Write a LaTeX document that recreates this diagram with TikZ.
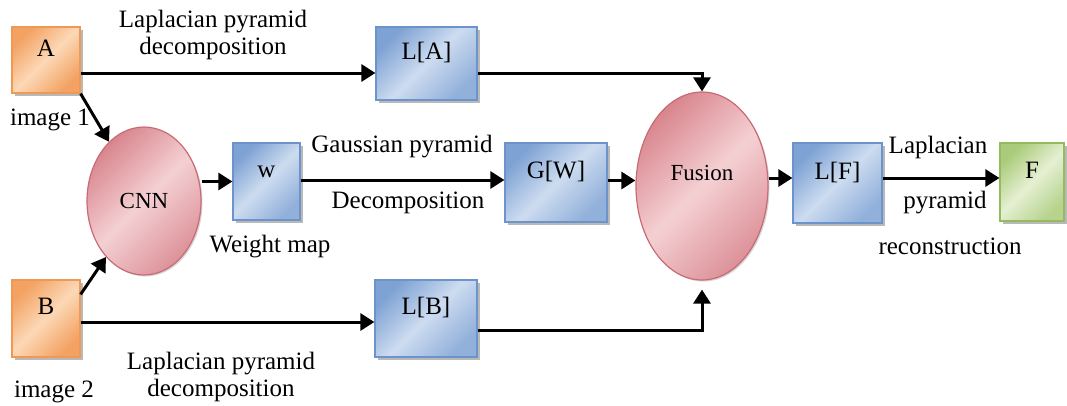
\documentclass[tikz,border=0pt]{standalone}
\usepackage{fontspec}
\setmainfont{Liberation Serif}
\usetikzlibrary{arrows.meta,shapes.geometric,shadows}
\definecolor{orD}{HTML}{F3A263}
\definecolor{orL}{HTML}{FCD8B6}
\definecolor{orB}{HTML}{EE9A55}
\definecolor{blD}{HTML}{7EA2D4}
\definecolor{blL}{HTML}{CDDCF0}
\definecolor{blB}{HTML}{6C93CA}
\definecolor{rdD}{HTML}{D9868E}
\definecolor{rdL}{HTML}{F4D0D3}
\definecolor{rdB}{HTML}{C96B75}
\definecolor{grD}{HTML}{AACB7A}
\definecolor{grL}{HTML}{E5F0D2}
\definecolor{grB}{HTML}{94BB60}
\begin{document}
\begin{tikzpicture}[x=1pt,y=-1pt,
  base/.style={draw, line width=1.2pt, inner sep=0pt,
    font=\fontsize{25}{27}\selectfont, text height=14pt, text depth=22pt,
    drop shadow={shadow xshift=3pt, shadow yshift=-3pt, fill=black!50, opacity=0.55}},
  orbox/.style={base, draw=orB, left color=orD, right color=orD, middle color=orL, shading angle=45},
  blbox/.style={base, draw=blB, left color=blD, right color=blD!85, middle color=blL, shading angle=45},
  grbox/.style={base, draw=grB, left color=grD, right color=grD!85, middle color=grL, shading angle=45},
  rdell/.style={ellipse, draw=rdB, line width=1.2pt, inner sep=0pt,
    left color=rdD, right color=rdD!90, middle color=rdL, shading angle=45,
    font=\fontsize{23}{25}\selectfont,
    drop shadow={shadow xshift=1.5pt, shadow yshift=-1.5pt, fill=black!40, opacity=0.4}},
  lbl/.style={font=\fontsize{25}{26.5}\selectfont, inner sep=0pt, align=center},
  arr/.style={line width=3pt, -{Triangle[length=14pt,width=17pt]}}
]
\useasboundingbox[fill=white] (0,0) rectangle (1067,405);

% boxes
\node[orbox, minimum width=68pt, minimum height=66pt] (A) at (46,60) {A};
\node[orbox, minimum width=68pt, minimum height=77pt] (B) at (46,318.5) {B};
\node[blbox, minimum width=101pt, minimum height=73pt] (LA) at (426.5,63.5) {L[A]};
\node[blbox, minimum width=102pt, minimum height=77pt] (LB) at (426,318.5) {L[B]};
\node[blbox, minimum width=67pt, minimum height=77pt] (w) at (266.5,181.5) {w};
\node[blbox, minimum width=102pt, minimum height=79pt] (GW) at (556,182.5) {G[W]};
\node[blbox, minimum width=89pt, minimum height=80pt] (LF) at (837.5,183) {L[F]};
\node[grbox, minimum width=64pt, minimum height=78pt] (F) at (1032,182) {F};

% ellipses
\node[rdell, minimum width=114pt, minimum height=148pt] (CNN) at (144,201) {CNN};
\node[rdell, minimum width=132pt, minimum height=188pt, text height=13pt, text depth=25pt] (Fus) at (702,186) {Fusion};

% labels
\node[lbl] (t1) at (213,35) {Laplacian pyramid\\decomposition};
\node[lbl] (t2) at (50,120) {image 1};
\node[lbl] (t3) at (402,147) {Gaussian pyramid};
\node[lbl] (t4) at (408,203) {Decomposition};
\node[lbl] (t5) at (270,247) {Weight map};
\node[lbl] (t6) at (938,147) {Laplacian};
\node[lbl] (t7) at (945,203) {pyramid};
\node[lbl] (t8) at (950,246) {reconstruction};
\node[lbl] (t9) at (221,377) {Laplacian pyramid\\decomposition};
\node[lbl] (t10) at (54,392) {image 2};

% connectors
\draw[arr] ([yshift=-13pt]A.east) -- ([yshift=-13pt]A.east -| LA.west);
\draw[arr] ([yshift=-9.5pt]LA.east) -| (Fus.north);
\draw[arr] (A.south east) -- (CNN);
\draw[arr] ([yshift=-15pt]B.north east) -- (CNN);
\draw[arr] (w.west -| CNN.east) -- (w.west);
\draw[arr] ([yshift=1.5pt]w.east) -- ([yshift=1.5pt]w.east -| GW.west);
\draw[arr] ([yshift=2pt]GW.east) -- ([yshift=2pt]GW.east -| Fus.west);
\draw[arr] ([yshift=5pt]LF.west -| Fus.east) -- ([yshift=5pt]LF.west);
\draw[arr] ([yshift=5pt]LF.east) -- ([yshift=5pt]LF.east -| F.west);
\draw[arr] ([yshift=-3.5pt]B.east) -- ([yshift=-3.5pt]B.east -| LB.west);
\draw[arr, shorten >=9pt] ([yshift=-11.5pt]LB.east) -| (Fus.south);
\end{tikzpicture}
\end{document}
